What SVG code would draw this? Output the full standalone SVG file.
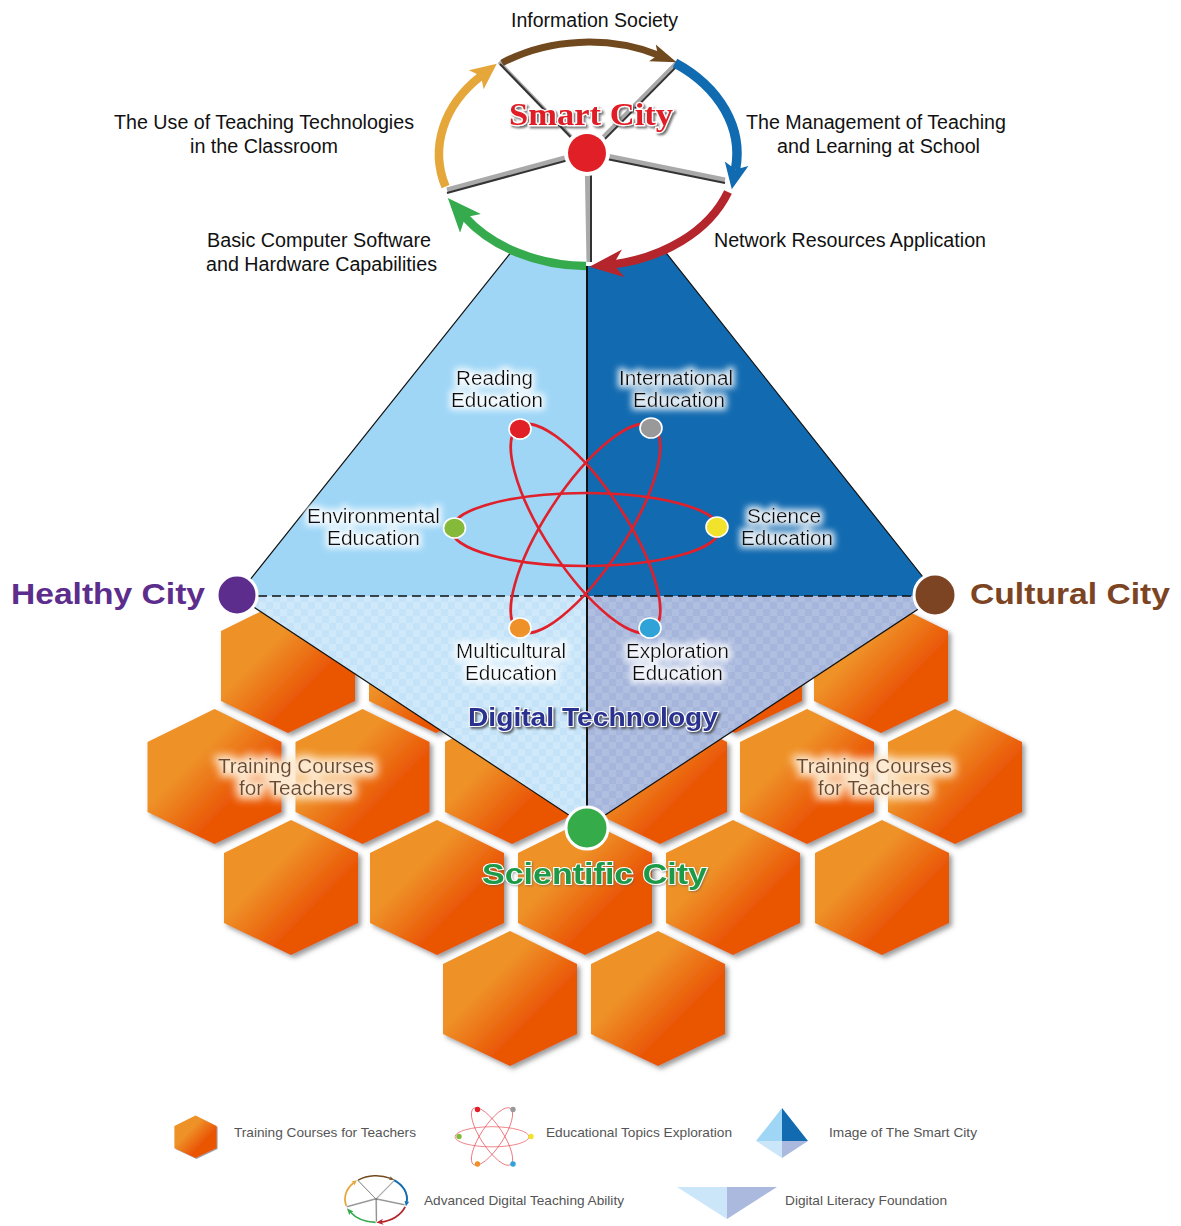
<svg xmlns="http://www.w3.org/2000/svg" xmlns:xlink="http://www.w3.org/1999/xlink" width="1181" height="1226" viewBox="0 0 1181 1226">
<style>
text{font-family:"Liberation Sans",Arial,sans-serif}
.lb{font-size:19.5px;fill:#111}
.tr{font-size:20px;fill:#6b4a32}
.lg{font-size:13px;fill:#555}
.city{font-size:30px;font-weight:bold}
.orb{fill:none;stroke:#e0202a;stroke-width:2.6}
.dot{stroke:#fff;stroke-width:1.6}
.arc{fill:none;stroke-width:8.5}
.edge{fill:none;stroke:#111;stroke-width:1.2}
</style>
<defs>
<linearGradient id="hg" x1="0.15" y1="0.15" x2="0.85" y2="0.85"><stop offset="0.3" stop-color="#ee9128"/><stop offset="0.72" stop-color="#ea5706"/></linearGradient>
<pattern id="chkL" width="14" height="14" patternUnits="userSpaceOnUse"><rect width="14" height="14" fill="#cfe9fa"/><rect width="7" height="7" fill="#c4e3f8"/><rect x="7" y="7" width="7" height="7" fill="#c4e3f8"/></pattern>
<pattern id="chkR" width="14" height="14" patternUnits="userSpaceOnUse"><rect width="14" height="14" fill="#b0bfe0"/><rect width="7" height="7" fill="#a5b5db"/><rect x="7" y="7" width="7" height="7" fill="#a5b5db"/></pattern>
<filter id="hs" x="-15%" y="-15%" width="135%" height="135%"><feDropShadow dx="3" dy="3" stdDeviation="2.5" flood-color="#555" flood-opacity="0.6"/></filter>
<filter id="glow" x="-20%" y="-60%" width="140%" height="220%"><feMorphology in="SourceAlpha" operator="dilate" radius="2.5" result="d"/><feGaussianBlur in="d" stdDeviation="3" result="b"/><feFlood flood-color="#fff" flood-opacity="0.85"/><feComposite in2="b" operator="in" result="g"/><feMerge><feMergeNode in="g"/><feMergeNode in="SourceGraphic"/></feMerge></filter>
<filter id="glowO" x="-20%" y="-60%" width="140%" height="220%"><feMorphology in="SourceAlpha" operator="dilate" radius="4" result="d"/><feGaussianBlur in="d" stdDeviation="4" result="b"/><feFlood flood-color="#fde9cf" flood-opacity="1"/><feComposite in2="b" operator="in" result="g"/><feMerge><feMergeNode in="g"/><feMergeNode in="SourceGraphic"/></feMerge></filter>
<filter id="ts" x="-10%" y="-30%" width="120%" height="170%"><feDropShadow dx="2" dy="2" stdDeviation="1" flood-color="#333" flood-opacity="0.7"/></filter>
<filter id="ts2" x="-10%" y="-30%" width="120%" height="170%"><feDropShadow dx="1" dy="1" stdDeviation="1" flood-color="#555" flood-opacity="0.5"/></filter>
<marker id="mBrown" markerUnits="userSpaceOnUse" markerWidth="40" markerHeight="40" refX="6" refY="20" orient="auto"><path d="M0,11 L26,20 L0,29 L6,20Z" fill="#71491f"/></marker>
<marker id="mBlue" markerUnits="userSpaceOnUse" markerWidth="40" markerHeight="40" refX="6" refY="20" orient="auto"><path d="M0,8 L26,20 L0,32 L6,20Z" fill="#116bb1"/></marker>
<marker id="mRed" markerUnits="userSpaceOnUse" markerWidth="50" markerHeight="40" refX="16" refY="20" orient="auto"><path d="M0,6 L34,20 L0,34 L10,20Z" fill="#b5262c"/></marker>
<marker id="mGreen" markerUnits="userSpaceOnUse" markerWidth="50" markerHeight="40" refX="9" refY="20" orient="auto"><path d="M0,6 L34,20 L0,34 L8,20Z" fill="#36ab4d"/></marker>
<marker id="mOrange" markerUnits="userSpaceOnUse" markerWidth="40" markerHeight="40" refX="6" refY="20" orient="auto"><path d="M0,8 L26,20 L0,32 L6,20Z" fill="#e5a63a"/></marker>
<polygon id="hex" points="0,0 67,33 67,103 0,135 -67,103 -67,33" fill="url(#hg)" filter="url(#hs)"/>
<g id="ring">
<g stroke-linecap="butt">
<g stroke="#a9a9a9"><line stroke-width="3.5" x1="587" y1="153" x2="499" y2="62"/><line stroke-width="3.5" x1="587" y1="153" x2="677" y2="62"/><line stroke-width="5" x1="587" y1="152" x2="447" y2="190"/><line stroke-width="5" x1="587" y1="152" x2="725" y2="180"/><line stroke-width="5" x1="587" y1="153" x2="589" y2="262"/></g>
<g stroke="#333" stroke-width="2"><line x1="588" y1="155" x2="500" y2="64"/><line x1="589" y1="155" x2="679" y2="64"/><line x1="587" y1="155" x2="447" y2="193"/><line x1="587" y1="155" x2="725" y2="183"/><line x1="591" y1="153" x2="591" y2="262"/></g>
</g>
<path class="arc" style="stroke-width:7" stroke="#71491f" marker-end="url(#mBrown)" d="M502,63 A149,112 0 0 1 658,55"/>
<path class="arc" style="stroke-width:9.5" stroke="#116bb1" marker-end="url(#mBlue)" d="M675,63 A149,112 0 0 1 735.5,169.6"/>
<path class="arc" stroke="#b5262c" marker-end="url(#mRed)" d="M728,192 A149,112 0 0 1 607.4,265"/>
<path class="arc" stroke="#36ab4d" marker-end="url(#mGreen)" d="M586,266 A149,112 0 0 1 464.5,216.6"/>
<path class="arc" stroke="#e5a63a" marker-end="url(#mOrange)" d="M445.5,186.7 A149,112 0 0 1 481,76"/>
</g>
<g id="orbits">
<ellipse class="orb" cx="585.5" cy="529.5" rx="134" ry="36.5"/>
<ellipse class="orb" cx="585.5" cy="528.5" rx="122" ry="40" transform="rotate(56.8 585.5 528.5)"/>
<ellipse class="orb" cx="585.5" cy="528.5" rx="122" ry="40" transform="rotate(-56.8 585.5 528.5)"/>
</g>
</defs>
<rect width="1181" height="1226" fill="#fff"/>

<g id="hexagons">
<use href="#hex" x="288" y="598"/><use href="#hex" x="436" y="598"/><use href="#hex" x="735" y="598"/><use href="#hex" x="881" y="598"/>
<use href="#hex" x="214.500" y="709"/><use href="#hex" x="362.500" y="709"/><use href="#hex" x="512" y="709"/><use href="#hex" x="660" y="709"/><use href="#hex" x="807" y="709"/><use href="#hex" x="955" y="709"/>
<use href="#hex" x="291" y="820"/><use href="#hex" x="437" y="820"/><use href="#hex" x="585" y="820"/><use href="#hex" x="733" y="820"/><use href="#hex" x="882" y="820"/>
<use href="#hex" x="510" y="931"/><use href="#hex" x="658" y="931"/>
</g>

<g id="kite">
<polygon points="587,157 237,596 587,596" fill="#9fd6f6"/>
<polygon points="587,153 938,596 587,596" fill="#126ab0"/>
<polygon points="237,596 587,596 587,827" fill="url(#chkL)"/>
<polygon points="938,596 587,596 587,827" fill="url(#chkR)"/>
<path class="edge" d="M587,157 L237,596 L587,827 L938,596 L587,153"/>
<line x1="587" y1="250" x2="587" y2="815" stroke="#111" stroke-width="2"/>
<line x1="258" y1="596" x2="915" y2="596" stroke="#111" stroke-width="1.6" stroke-dasharray="9 5"/>
</g>

<g id="smart-city">
<ellipse cx="588" cy="154" rx="149" ry="112" fill="#fff"/>
<use href="#ring"/>
<circle cx="587" cy="153" r="23" fill="#fff"/>
<circle cx="587" cy="153" r="19" fill="#e01f26"/>
<text x="509" y="125" textLength="164" lengthAdjust="spacingAndGlyphs" font-size="32" font-weight="bold" fill="#e01f26" stroke="#fff" stroke-width="2.5" paint-order="stroke" filter="url(#ts)" style="font-family:'Liberation Serif',serif">Smart City</text>
</g>

<g id="society-labels">
<text class="lb" x="511" y="26.500" textLength="167" lengthAdjust="spacingAndGlyphs">Information Society</text>
<text class="lb" x="114" y="128.500" textLength="300" lengthAdjust="spacingAndGlyphs">The Use of Teaching Technologies</text>
<text class="lb" x="190" y="152.500" textLength="148" lengthAdjust="spacingAndGlyphs">in the Classroom</text>
<text class="lb" x="746" y="128.500" textLength="260" lengthAdjust="spacingAndGlyphs">The Management of Teaching</text>
<text class="lb" x="777" y="152.500" textLength="203" lengthAdjust="spacingAndGlyphs">and Learning at School</text>
<text class="lb" x="714" y="246.500" textLength="272" lengthAdjust="spacingAndGlyphs">Network Resources Application</text>
<text class="lb" x="207" y="246.500" textLength="224" lengthAdjust="spacingAndGlyphs">Basic Computer Software</text>
<text class="lb" x="206" y="270.500" textLength="231" lengthAdjust="spacingAndGlyphs">and Hardware Capabilities</text>
</g>

<g id="atom">
<use href="#orbits"/>
<ellipse class="dot" cx="520" cy="429" rx="11" ry="10" fill="#e01f26"/>
<ellipse class="dot" cx="651" cy="428" rx="11" ry="10" fill="#999"/>
<ellipse class="dot" cx="454.500" cy="528" rx="11" ry="10" fill="#84b93a"/>
<ellipse class="dot" cx="717" cy="527" rx="11" ry="10" fill="#f1e32c"/>
<ellipse class="dot" cx="520" cy="628" rx="11" ry="10" fill="#ee9128"/>
<ellipse class="dot" cx="650" cy="628" rx="11" ry="10" fill="#2fa3d8"/>
</g>

<g id="topics" filter="url(#glow)">
<text class="lb" x="456" y="384.500" textLength="77" lengthAdjust="spacingAndGlyphs">Reading</text>
<text class="lb" x="451" y="406.500" textLength="92" lengthAdjust="spacingAndGlyphs">Education</text>
<text class="lb" x="619" y="384.500" textLength="114" lengthAdjust="spacingAndGlyphs">International</text>
<text class="lb" x="633" y="406.500" textLength="92" lengthAdjust="spacingAndGlyphs">Education</text>
<text class="lb" x="307" y="522.500" textLength="133" lengthAdjust="spacingAndGlyphs">Environmental</text>
<text class="lb" x="327" y="544.500" textLength="93" lengthAdjust="spacingAndGlyphs">Education</text>
<text class="lb" x="747" y="522.500" textLength="74" lengthAdjust="spacingAndGlyphs">Science</text>
<text class="lb" x="741" y="544.500" textLength="92" lengthAdjust="spacingAndGlyphs">Education</text>
<text class="lb" x="456" y="657.500" textLength="110" lengthAdjust="spacingAndGlyphs">Multicultural</text>
<text class="lb" x="465" y="679.500" textLength="92" lengthAdjust="spacingAndGlyphs">Education</text>
<text class="lb" x="626" y="657.500" textLength="103" lengthAdjust="spacingAndGlyphs">Exploration</text>
<text class="lb" x="632" y="679.500" textLength="91" lengthAdjust="spacingAndGlyphs">Education</text>
</g>

<g id="training" filter="url(#glowO)">
<text class="tr" x="218" y="773" textLength="156" lengthAdjust="spacingAndGlyphs">Training Courses</text>
<text class="tr" x="239" y="795" textLength="114" lengthAdjust="spacingAndGlyphs">for Teachers</text>
<text class="tr" x="796" y="773" textLength="156" lengthAdjust="spacingAndGlyphs">Training Courses</text>
<text class="tr" x="818" y="795" textLength="112" lengthAdjust="spacingAndGlyphs">for Teachers</text>
</g>

<text id="digital-technology" x="468" y="726" textLength="250" lengthAdjust="spacingAndGlyphs" font-size="26" font-weight="bold" fill="#2b3390" stroke="#fff" stroke-width="2" paint-order="stroke" filter="url(#ts)">Digital Technology</text>

<g id="healthy-city">
<circle cx="237" cy="595" r="20" fill="#5c2d8c" stroke="#fff" stroke-width="3"/>
<text class="city" x="11" y="604" textLength="194" lengthAdjust="spacingAndGlyphs" fill="#5c2d8c">Healthy City</text>
</g>
<g id="cultural-city">
<circle cx="935" cy="595" r="21" fill="#7d4423" stroke="#fff" stroke-width="3"/>
<text class="city" x="970" y="604" textLength="200" lengthAdjust="spacingAndGlyphs" fill="#7d4423">Cultural City</text>
</g>
<g id="scientific-city">
<circle cx="587" cy="828" r="21" fill="#35ab4a" stroke="#fff" stroke-width="3"/>
<text class="city" x="482" y="884" textLength="225" lengthAdjust="spacingAndGlyphs" fill="#1e9a48" stroke="#fff" stroke-width="2" paint-order="stroke" filter="url(#ts2)">Scientific City</text>
</g>

<g id="legend-training">
<use href="#hex" transform="translate(195.500 1115.500) scale(0.315)"/>
<text class="lg" x="234" y="1137" textLength="182" lengthAdjust="spacingAndGlyphs">Training Courses for Teachers</text>
</g>
<g id="legend-topics">
<g opacity="0.75"><use href="#orbits" transform="translate(492 1136.500) scale(0.276) translate(-585.500 -528.500)"/></g>
<circle cx="477.500" cy="1109.500" r="2.700" fill="#e01f26"/><circle cx="513" cy="1109.500" r="2.700" fill="#999"/><circle cx="459" cy="1136.500" r="2.700" fill="#84b93a"/><circle cx="531" cy="1136.500" r="2.700" fill="#f1e32c"/><circle cx="477.500" cy="1164" r="2.700" fill="#ee9128"/><circle cx="513" cy="1164" r="2.700" fill="#2fa3d8"/>
<text class="lg" x="546" y="1137" textLength="186" lengthAdjust="spacingAndGlyphs">Educational Topics Exploration</text>
</g>
<g id="legend-image">
<polygon points="782,1108 756,1141 782,1141" fill="#9fd6f6"/>
<polygon points="782,1108 808,1141 782,1141" fill="#126ab0"/>
<polygon points="756,1141 782,1141 782,1158" fill="#cbe6f9"/>
<polygon points="808,1141 782,1141 782,1158" fill="#aab9dd"/>
<text class="lg" x="829" y="1137" textLength="148" lengthAdjust="spacingAndGlyphs">Image of The Smart City</text>
</g>
<g id="legend-ring">
<use href="#ring" transform="translate(376 1199) scale(0.208) translate(-588 -154)"/>
<text class="lg" x="424" y="1205" textLength="200" lengthAdjust="spacingAndGlyphs">Advanced Digital Teaching Ability</text>
</g>
<g id="legend-foundation">
<polygon points="677,1187 727,1187 727,1219" fill="#cbe6f9"/>
<polygon points="777,1187 727,1187 727,1219" fill="#aab9dd"/>
<text class="lg" x="785" y="1205" textLength="162" lengthAdjust="spacingAndGlyphs">Digital Literacy Foundation</text>
</g>
</svg>
